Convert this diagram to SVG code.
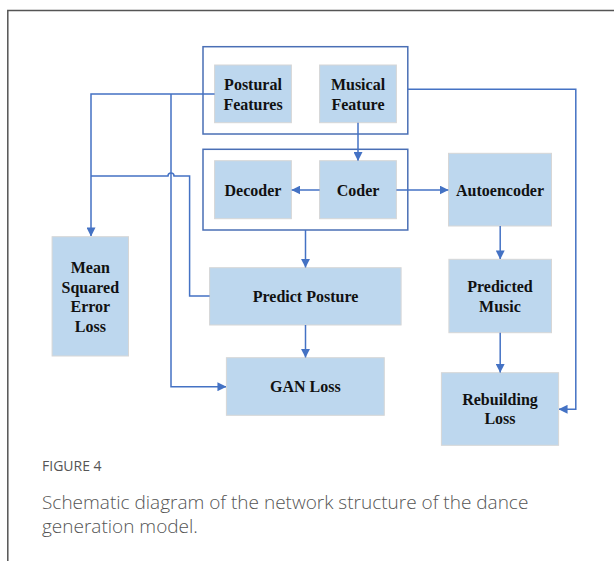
<svg xmlns="http://www.w3.org/2000/svg" width="614" height="561" viewBox="0 0 614 561">
<style>
.box{fill:#BDD7EE;stroke:#D6D6D6;stroke-width:1}
.grp{fill:none;stroke:#4A6FB5;stroke-width:1.5}
.t{font-family:"Liberation Serif",serif;font-weight:bold;font-size:16px;fill:#111;text-anchor:middle;dominant-baseline:central}
.c{fill:none;stroke:#4472C4;stroke-width:1.5}
</style>
<defs>
<marker id="a" viewBox="0 0 10 10" refX="9.5" refY="5" markerWidth="9" markerHeight="9" markerUnits="userSpaceOnUse" orient="auto"><path d="M0,0L10,5L0,10z" fill="#4472C4"/></marker>
</defs>
<rect width="614" height="561" fill="#fff"/>
<path d="M7.8,561V10.5H614" fill="none" stroke="#555" stroke-width="1.5"/>
<g id="group1"><rect class="grp" x="203" y="46.7" width="204.8" height="87.3"/></g>
<g id="group2"><rect class="grp" x="203" y="149.3" width="204.8" height="80.7"/></g>
<g id="postural"><rect class="box" x="214.6" y="65" width="76.8" height="57.7"/><text class="t" x="253" y="84">Postural</text><text class="t" x="253" y="104">Features</text></g>
<g id="musical"><rect class="box" x="319.6" y="65" width="76.8" height="57.7"/><text class="t" x="358" y="84">Musical</text><text class="t" x="358" y="104">Feature</text></g>
<g id="decoder"><rect class="box" x="214.6" y="160.7" width="76.8" height="58"/><text class="t" x="253" y="190">Decoder</text></g>
<g id="coder"><rect class="box" x="319.6" y="160.7" width="76.8" height="58"/><text class="t" x="358" y="190">Coder</text></g>
<g id="autoencoder"><rect class="box" x="448.5" y="153.3" width="103" height="72.7"/><text class="t" x="500" y="190">Autoencoder</text></g>
<g id="mse"><rect class="box" x="52.1" y="236.7" width="76.4" height="119.3"/><text class="t" x="90.3" y="267.7">Mean</text><text class="t" x="90.3" y="287.3">Squared</text><text class="t" x="90.3" y="306.7">Error</text><text class="t" x="90.3" y="326">Loss</text></g>
<g id="predictposture"><rect class="box" x="209.6" y="267.7" width="191.5" height="57.3"/><text class="t" x="305.5" y="296">Predict Posture</text></g>
<g id="predictedmusic"><rect class="box" x="448.9" y="259.3" width="102.6" height="73.4"/><text class="t" x="500" y="286.7">Predicted</text><text class="t" x="500" y="306">Music</text></g>
<g id="ganloss"><rect class="box" x="226.4" y="357.7" width="157.9" height="57.6"/><text class="t" x="305.3" y="386.7">GAN Loss</text></g>
<g id="rebuilding"><rect class="box" x="441.4" y="372.7" width="117.2" height="72.6"/><text class="t" x="500" y="399.3">Rebuilding</text><text class="t" x="500" y="418.7">Loss</text></g>
<g id="connectors">
<path class="c" d="M214.6,94H91V236" marker-end="url(#a)"/>
<path class="c" d="M171,94V386.7H226" marker-end="url(#a)"/>
<path class="c" d="M91,176H168a3,3 0 0 1 6,0H189.6V296H209.6"/>
<path class="c" d="M358,122.7V160.5" marker-end="url(#a)"/>
<path class="c" d="M407.8,89.3H575.8V409.3H559" marker-end="url(#a)"/>
<path class="c" d="M319.6,190H291.8" marker-end="url(#a)"/>
<path class="c" d="M396.4,190H448.2" marker-end="url(#a)"/>
<path class="c" d="M305.5,230V267.4" marker-end="url(#a)"/>
<path class="c" d="M305.5,325V357.4" marker-end="url(#a)"/>
<path class="c" d="M500.2,226V259" marker-end="url(#a)"/>
<path class="c" d="M500.2,332.7V372.4" marker-end="url(#a)"/>
</g>
<text x="42" y="471" font-family="'Open Sans',sans-serif" font-size="14" fill="#555">FIGURE 4</text>
<text x="42" y="509" font-family="'Open Sans',sans-serif" font-size="19" font-weight="300" fill="#555">Schematic diagram of the network structure of the dance</text>
<text x="42" y="533" font-family="'Open Sans',sans-serif" font-size="19" font-weight="300" fill="#555">generation model.</text>
</svg>
